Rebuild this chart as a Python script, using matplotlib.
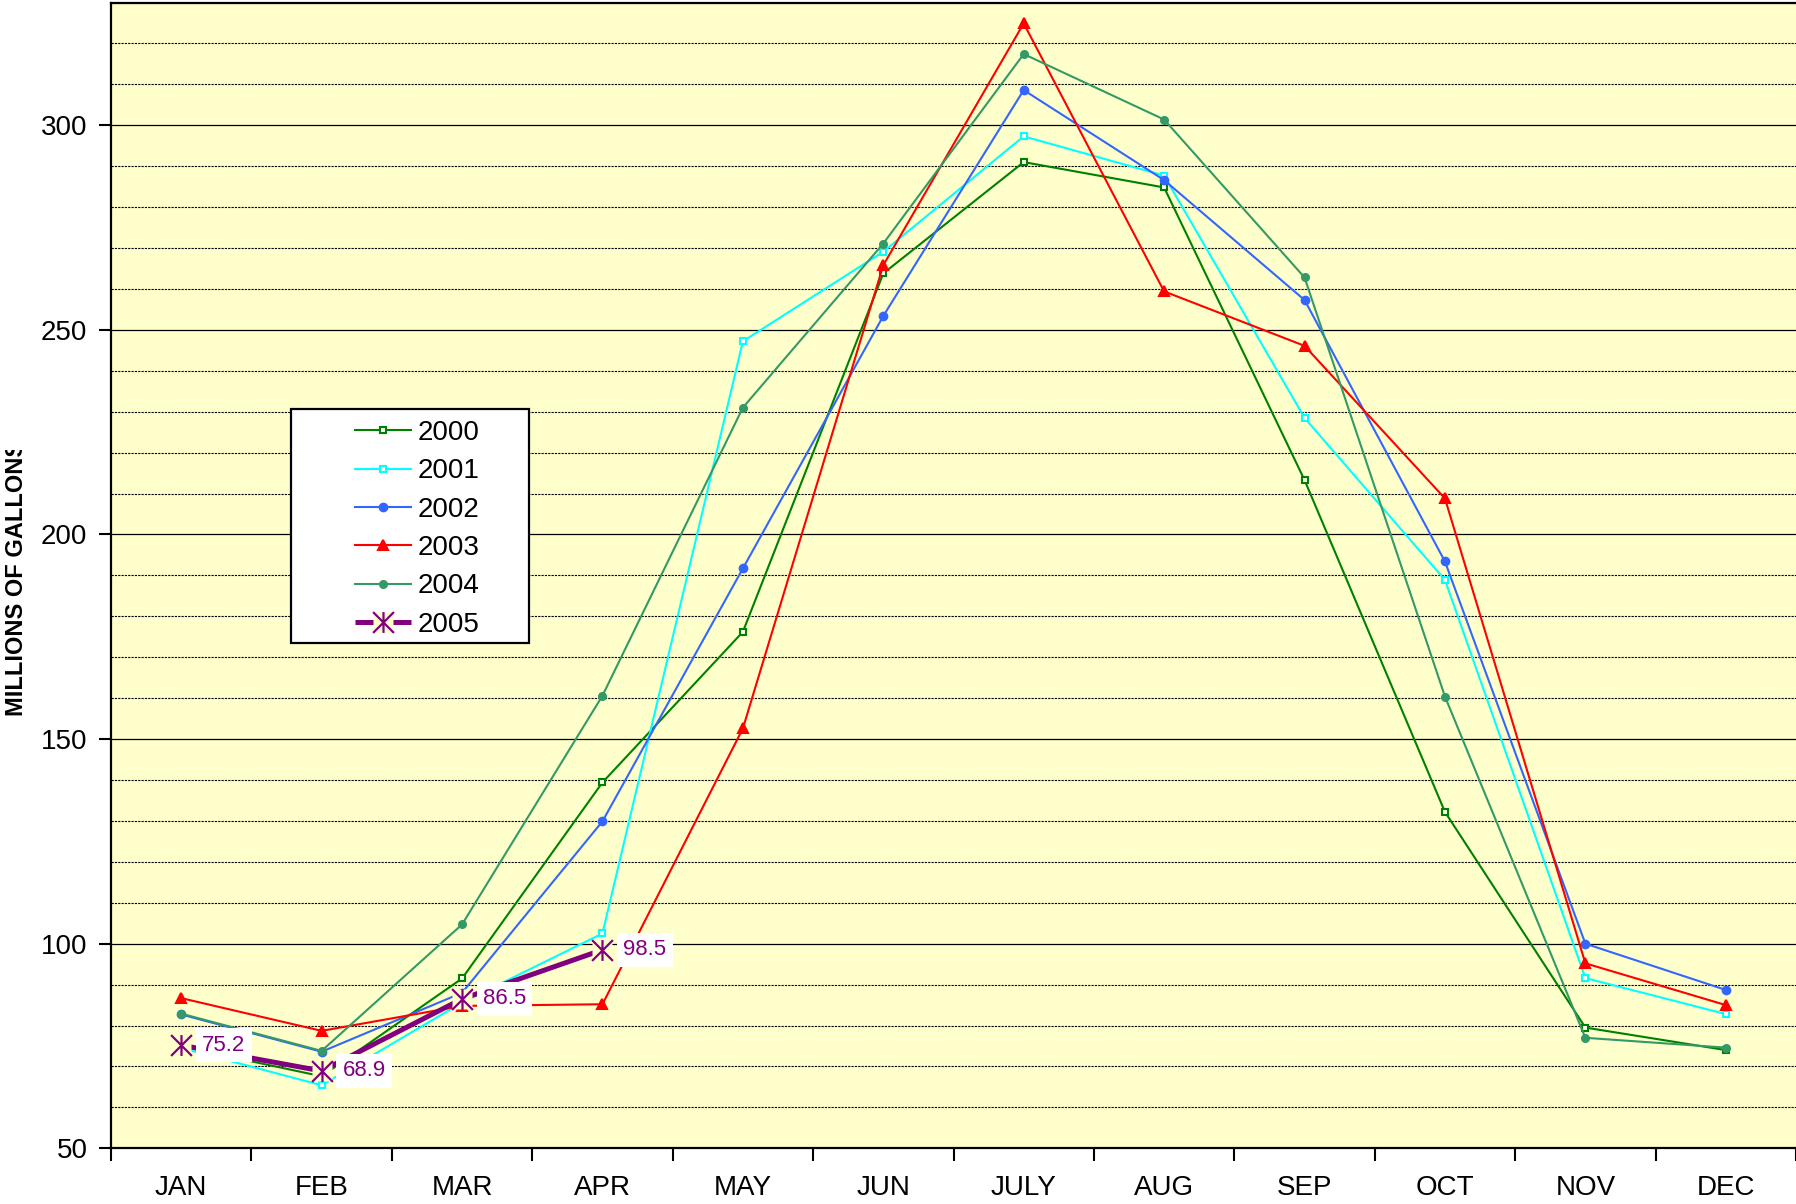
import matplotlib
matplotlib.use("Agg")
import matplotlib.pyplot as plt
from matplotlib.patches import Rectangle
from matplotlib.path import Path
from matplotlib.transforms import Bbox, TransformedBbox
from matplotlib.legend_handler import HandlerTuple
from matplotlib.ticker import MultipleLocator, FixedLocator
import numpy as np

plt.rcParams['font.family'] = ['Liberation Sans', 'DejaVu Sans']

months = ["JAN", "FEB", "MAR", "APR", "MAY", "JUN", "JULY", "AUG", "SEP", "OCT", "NOV", "DEC"]
y2000 = [74.9, 67.6, 91.5, 139.4, 176.2, 263.8, 291.0, 284.8, 213.3, 132.2, 79.5, 74.0]
y2001 = [74.5, 65.4, 85.6, 102.5, 247.2, 269.1, 297.3, 287.7, 228.5, 188.9, 91.6, 82.8]
y2002 = [82.7, 73.6, 88.0, 129.9, 191.7, 253.4, 308.6, 286.6, 257.3, 193.4, 100.0, 88.7]
y2003 = [86.7, 78.7, 84.8, 85.2, 152.6, 265.8, 324.9, 259.4, 246.1, 208.8, 95.2, 85.0]
y2004 = [82.9, 73.8, 104.7, 160.6, 231.0, 271.1, 317.4, 301.4, 262.8, 160.4, 77.0, 74.6]
y2005 = [75.2, 68.9, 86.5, 98.5]
series_names = ["2000", "2001", "2002", "2003", "2004", "2005"]

BG = "#FFFFCC"
W, H = 1796, 1204
fig = plt.figure(figsize=(W / 100, H / 100), dpi=100)
fig.patch.set_facecolor("white")
ax = fig.add_axes([111 / W, (H - 1148.3) / H, (W - 111) / W, (1148.3 - 2.5) / H])
ax.set_facecolor(BG)

# Excel-style star marker: an X plus a vertical stroke
star_path = Path([(0, -1), (0, 1), (-1, -1), (1, 1), (-1, 1), (1, -1)],
                 [Path.MOVETO, Path.LINETO, Path.MOVETO, Path.LINETO, Path.MOVETO, Path.LINETO])

x = np.arange(len(months))
styles = [
    (y2000, "#008000", "s", 5, "white"),
    (y2001, "#00FFFF", "s", 5, "white"),
    (y2002, "#3366FF", "o", 5.5, None),
    (y2003, "#FF0000", "^", 7.5, None),
    (y2004, "#339966", "o", 5, None),
]
handles = []
for i, (vals, col, mk, ms, mfc) in enumerate(styles):
    ln, = ax.plot(x[:len(vals)], vals, color=col, lw=1.5, marker=mk, ms=ms,
                  mfc=(mfc if mfc else col), mec=col, mew=1.5, zorder=2 + i * 0.01,
                  label=series_names[i])
    handles.append(ln)

x5 = x[:len(y2005)]
l5, = ax.plot(x5, y2005, color="#800080", lw=3.6, zorder=2.5, solid_capstyle="butt")
bg5, = ax.plot(x5, y2005, ls="none", marker="s", ms=15, mfc=BG, mec="none", zorder=2.6)
st5, = ax.plot(x5, y2005, ls="none", marker=star_path, ms=15, mec="#800080", mfc="none",
               mew=1.6, zorder=2.7)
handles.append((l5, bg5, st5))

for xi, v in zip(x5, y2005):
    ax.annotate(f"{v:.1f}", xy=(xi, v), xytext=(15, 0), textcoords="offset points",
                ha="left", va="center", fontsize=16, color="#800080", zorder=4,
                bbox=dict(boxstyle="square,pad=0.28", fc="white", ec="none"))

ax.set_xlim(-0.5, len(months) - 0.5)
ax.set_ylim(50, 330)

# x ticks: labels at centers, tick marks at boundaries
ax.xaxis.set_major_locator(FixedLocator(x))
ax.set_xticklabels(months, fontsize=20)
ax.xaxis.set_minor_locator(FixedLocator(np.arange(-0.5, len(months), 1.0)))
ax.tick_params(axis="x", which="major", length=0, pad=19.5)
ax.tick_params(axis="x", which="minor", length=9, width=1.5, direction="out")

ax.yaxis.set_major_locator(MultipleLocator(50))
ax.yaxis.set_minor_locator(MultipleLocator(10))
ax.tick_params(axis="y", which="major", length=9, width=1.5, labelsize=20, pad=8)
ax.tick_params(axis="y", which="minor", length=0)
ax.grid(True, which="major", axis="y", color="black", lw=0.9, ls="-")
ax.grid(True, which="minor", axis="y", color="black", lw=0.8, ls=(0, (2, 1)))
ax.set_axisbelow(True)

for s in ["left", "bottom", "top"]:
    ax.spines[s].set_linewidth(1.6)
    ax.spines[s].set_color("black")
ax.spines["right"].set_visible(False)

# y label, clipped at top like the original
yl = fig.text(17 / W, 1 - 716 / H, "MILLIONS OF GALLONS", rotation=90, ha="center",
              va="bottom", fontsize=17, fontweight="bold")
yl.set_clip_box(TransformedBbox(Bbox([[0, 1 - 716 / H - 0.01], [60 / W, 1 - 450 / H]]), fig.transFigure))
yl.set_clip_on(True)

# legend frame
ax.add_patch(Rectangle((291 / W, 1 - 642.6 / H), 238 / W, 233.6 / H, transform=fig.transFigure,
                       fc="white", ec="black", lw=1.6, zorder=4.5, clip_on=False))
leg = ax.legend(handles, series_names, loc="upper left",
                bbox_to_anchor=(355 / W, 1 - 420 / H), bbox_transform=fig.transFigure,
                frameon=False, fontsize=20, borderpad=0, borderaxespad=0,
                handlelength=2.0, handletextpad=0.25, labelspacing=0.445, numpoints=1,
                handler_map={tuple: HandlerTuple(ndivide=1, pad=0)})
leg.set_zorder(5)

fig.savefig("out.png", dpi=100, facecolor="white")
